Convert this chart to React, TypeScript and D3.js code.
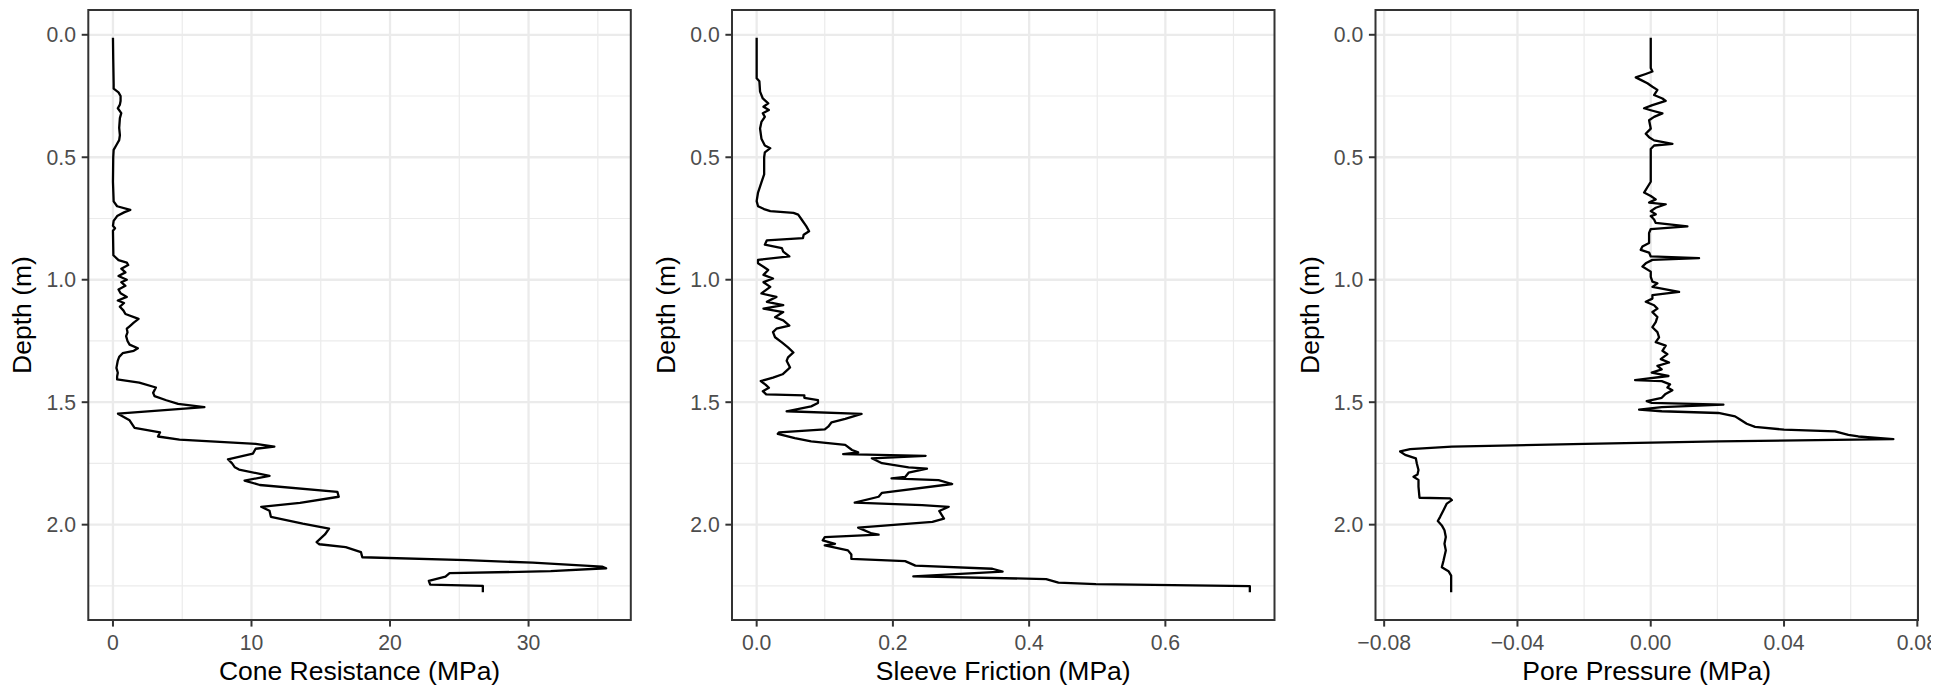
import React from "react";
import * as d3 from "d3";

// [depth (m), value (MPa)]
const coneData: [number, number][] = [
  [0.012, 0.0], [0.1, 0.02], [0.2, 0.05], [0.22, 0.05], [0.235, 0.4], [0.25, 0.55], [0.27, 0.55], [0.285, 0.5],
  [0.3, 0.35], [0.32, 0.6], [0.34, 0.5], [0.38, 0.45], [0.41, 0.5], [0.43, 0.45], [0.45, 0.25], [0.47, 0.05],
  [0.5, 0.02], [0.6, 0.0], [0.68, 0.05], [0.7, 0.3], [0.715, 1.25], [0.725, 0.8], [0.74, 0.3], [0.76, 0.05],
  [0.78, 0.0], [0.79, 0.15], [0.8, 0.0], [0.9, 0.03], [0.92, 0.4], [0.93, 1.0], [0.94, 1.1], [0.955, 0.6],
  [0.97, 0.9], [0.985, 0.4], [1.0, 1.0], [1.01, 0.6], [1.025, 0.9], [1.04, 0.4], [1.055, 0.55], [1.07, 1.0],
  [1.085, 0.35], [1.095, 0.8], [1.11, 0.5], [1.125, 0.75], [1.14, 0.9], [1.16, 1.85], [1.175, 1.5], [1.19, 1.2],
  [1.2, 1.0], [1.215, 1.05], [1.23, 0.95], [1.25, 1.05], [1.265, 1.2], [1.28, 1.8], [1.29, 1.5], [1.3, 0.7],
  [1.315, 0.45], [1.33, 0.35], [1.345, 0.3], [1.36, 0.25], [1.38, 0.35], [1.395, 0.3], [1.407, 0.3], [1.42, 1.9],
  [1.44, 3.1], [1.462, 2.9], [1.475, 3.0], [1.492, 3.85], [1.507, 4.7], [1.52, 6.6], [1.547, 0.36], [1.574, 1.2],
  [1.605, 1.56], [1.623, 3.4], [1.64, 3.25], [1.653, 4.8], [1.67, 10.3], [1.681, 11.65], [1.69, 10.3], [1.71, 10.1],
  [1.733, 8.3], [1.75, 8.6], [1.766, 8.8], [1.775, 9.1], [1.801, 11.3], [1.82, 9.5], [1.838, 10.6], [1.866, 16.2],
  [1.886, 16.3], [1.911, 13.5], [1.927, 10.7], [1.943, 11.3], [1.968, 11.4], [1.996, 13.7], [2.016, 15.6], [2.04, 15.3],
  [2.071, 14.7], [2.08, 14.9], [2.092, 16.8], [2.112, 17.9], [2.133, 18.0], [2.145, 25.5], [2.155, 30.3], [2.171, 35.3],
  [2.178, 35.6], [2.19, 31.6], [2.198, 24.3], [2.212, 24.0], [2.229, 22.8], [2.245, 22.9], [2.25, 26.7], [2.276, 26.7],
];

const sleeveData: [number, number][] = [
  [0.012, 0.0], [0.177, 0.0], [0.19, 0.004], [0.232, 0.005], [0.26, 0.009], [0.28, 0.017], [0.294, 0.01], [0.307, 0.018],
  [0.32, 0.009], [0.335, 0.012], [0.356, 0.007], [0.383, 0.005], [0.424, 0.007], [0.452, 0.012], [0.463, 0.02], [0.48, 0.012],
  [0.5, 0.011], [0.57, 0.011], [0.603, 0.007], [0.644, 0.002], [0.679, 0.0], [0.7, 0.002], [0.713, 0.012], [0.72, 0.02],
  [0.727, 0.054], [0.734, 0.061], [0.754, 0.066], [0.782, 0.073], [0.802, 0.077], [0.816, 0.069], [0.83, 0.068], [0.839, 0.015],
  [0.857, 0.012], [0.871, 0.037], [0.885, 0.039], [0.905, 0.048], [0.919, 0.002], [0.933, 0.002], [0.947, 0.01], [0.96, 0.017],
  [0.98, 0.01], [0.995, 0.024], [1.01, 0.01], [1.029, 0.02], [1.056, 0.007], [1.07, 0.029], [1.09, 0.015], [1.104, 0.039],
  [1.118, 0.01], [1.132, 0.039], [1.153, 0.027], [1.166, 0.039], [1.187, 0.048], [1.2, 0.029], [1.214, 0.024], [1.235, 0.027],
  [1.256, 0.037], [1.276, 0.046], [1.297, 0.054], [1.317, 0.046], [1.331, 0.044], [1.358, 0.049], [1.366, 0.046], [1.386, 0.038],
  [1.4, 0.024], [1.414, 0.006], [1.428, 0.013], [1.441, 0.018], [1.455, 0.009], [1.468, 0.014], [1.472, 0.07], [1.482, 0.07],
  [1.492, 0.09], [1.503, 0.09], [1.517, 0.08], [1.537, 0.044], [1.548, 0.154], [1.568, 0.13], [1.582, 0.11], [1.6, 0.105],
  [1.611, 0.1], [1.623, 0.033], [1.629, 0.031], [1.647, 0.056], [1.66, 0.08], [1.674, 0.13], [1.695, 0.14], [1.705, 0.149],
  [1.712, 0.127], [1.719, 0.248], [1.729, 0.169], [1.749, 0.184], [1.766, 0.223], [1.771, 0.25], [1.788, 0.223], [1.805, 0.218],
  [1.811, 0.198], [1.818, 0.267], [1.834, 0.287], [1.87, 0.184], [1.886, 0.179], [1.91, 0.144], [1.92, 0.243], [1.927, 0.282],
  [1.944, 0.268], [1.975, 0.275], [1.989, 0.258], [2.012, 0.149], [2.036, 0.169], [2.041, 0.179], [2.051, 0.1], [2.064, 0.097],
  [2.078, 0.115], [2.085, 0.1], [2.105, 0.134], [2.122, 0.139], [2.14, 0.139], [2.149, 0.218], [2.167, 0.233], [2.18, 0.346],
  [2.192, 0.361], [2.211, 0.23], [2.222, 0.425], [2.237, 0.443], [2.243, 0.498], [2.251, 0.724], [2.276, 0.724],
];

const poreData: [number, number][] = [
  [0.012, 0], [0.136, 0], [0.15, 0.0005], [0.16, -0.0015], [0.174, -0.0045], [0.184, -0.003], [0.198, -0.001], [0.212, 0.0005],
  [0.225, 0.002], [0.246, 0.001], [0.26, 0.0035], [0.27, 0.0045], [0.287, 0.0005], [0.3, -0.002], [0.308, 0], [0.321, 0.0035],
  [0.335, 0.001], [0.349, -0.0005], [0.383, 0], [0.404, -0.0015], [0.418, -0.0005], [0.431, 0.001], [0.445, 0.0065], [0.452, 0.001],
  [0.466, 0], [0.6, 0.0], [0.644, -0.002], [0.658, 0], [0.672, 0.0015], [0.685, -0.0005], [0.692, 0.0045], [0.706, 0.0015],
  [0.72, 0], [0.733, 0.0015], [0.74, 0], [0.754, 0.001], [0.768, 0.0015], [0.782, 0.011], [0.793, 0], [0.809, -0.0005],
  [0.85, -0.0005], [0.864, -0.0025], [0.878, -0.003], [0.889, -0.0005], [0.905, 0], [0.912, 0.0145], [0.919, 0.0005], [0.933, -0.0015],
  [0.946, -0.0025], [0.967, 0], [0.988, 0], [1.008, 0.0005], [1.015, 0.002], [1.029, 0.0005], [1.05, 0.0085], [1.063, 0.0005],
  [1.077, 0.0005], [1.09, -0.0015], [1.104, 0.001], [1.118, 0.002], [1.132, 0.0005], [1.152, 0.002], [1.173, 0.0015], [1.194, 0.0005],
  [1.214, 0.002], [1.235, 0.0025], [1.255, 0.0015], [1.269, 0.0045], [1.29, 0.0035], [1.304, 0.005], [1.324, 0.003], [1.338, 0.0055],
  [1.352, 0.002], [1.366, 0.0033], [1.379, 0.0003], [1.393, 0.0053], [1.41, -0.0047], [1.414, 0.0033], [1.427, 0.0058], [1.44, 0.005],
  [1.451, 0.0065], [1.468, 0.0043], [1.482, 0.0033], [1.496, -0.0012], [1.503, 0.0003], [1.51, 0.0218], [1.52, 0.0033], [1.53, -0.0035],
  [1.537, 0.0033], [1.544, 0.0203], [1.558, 0.0253], [1.571, 0.0268], [1.588, 0.0288], [1.601, 0.0313], [1.612, 0.04], [1.619, 0.0553],
  [1.633, 0.0593], [1.64, 0.0623], [1.651, 0.0728], [1.66, 0.0203], [1.67, -0.0197], [1.681, -0.0597], [1.692, -0.0722], [1.701, -0.0752],
  [1.715, -0.0737], [1.729, -0.0705], [1.75, -0.0702], [1.777, -0.0697], [1.795, -0.07], [1.804, -0.0712], [1.817, -0.0697], [1.845, -0.0697],
  [1.89, -0.0694], [1.893, -0.0602], [1.9, -0.0597], [1.914, -0.0612], [1.941, -0.0622], [1.968, -0.0632], [1.985, -0.0639], [2.003, -0.0627],
  [2.023, -0.0619], [2.05, -0.0615], [2.078, -0.0619], [2.105, -0.0615], [2.147, -0.0622], [2.174, -0.0627], [2.19, -0.0607], [2.208, -0.0599],
  [2.276, -0.0599],
];

const depthTicks = [0, 0.5, 1.0, 1.5, 2.0];
const depthMinor = [0.25, 0.75, 1.25, 1.75, 2.25];
const coneTicks = [0, 10, 20, 30];
const coneMinor = [5, 15, 25, 35];
const sleeveTicks = [0, 0.2, 0.4, 0.6];
const sleeveMinor = [0.1, 0.3, 0.5, 0.7];
const poreTicks = [-0.08, -0.04, 0, 0.04, 0.08];
const poreMinor = [-0.06, -0.02, 0.02, 0.06];
const xTitles = ["Cone Resistance (MPa)", "Sleeve Friction (MPa)", "Pore Pressure (MPa)"];
const yTitle = "Depth (m)";

const PANEL_LEFTS = [88.3, 732, 1375.5];
const PANEL_W = 542.5;
const TOP = 10;
const BOTTOM = 620;
const FONT = "'Liberation Sans', Arial, Helvetica, sans-serif";
const TICK_FS = 21.2;
const TITLE_FS = 26.5;

function expand(ext: [number, number]): [number, number] {
  const p = (ext[1] - ext[0]) * 0.05;
  return [ext[0] - p, ext[1] + p];
}

function Panel({ data, left, y, ticks, minor, fmt, title }: any) {
  const ext = d3.extent(data, (d: [number, number]) => d[1]) as [number, number];
  const x = d3.scaleLinear().domain(expand(ext)).range([left, left + PANEL_W]);
  const line = d3
    .line<[number, number]>()
    .x((d) => x(d[1]))
    .y((d) => y(d[0]));
  const right = left + PANEL_W;
  const inX = (v: number) => x(v) >= left - 0.5 && x(v) <= right + 0.5;
  return (
    <g>
      <rect x={left} y={TOP} width={PANEL_W} height={BOTTOM - TOP} fill="#fff" />
      {depthMinor.map((d) => (
        <line key={"ym" + d} x1={left} x2={right} y1={y(d)} y2={y(d)} stroke="#EBEBEB" strokeWidth={1.2} />
      ))}
      {minor.filter(inX).map((v: number) => (
        <line key={"xm" + v} x1={x(v)} x2={x(v)} y1={TOP} y2={BOTTOM} stroke="#EBEBEB" strokeWidth={1.2} />
      ))}
      {depthTicks.map((d) => (
        <line key={"yM" + d} x1={left} x2={right} y1={y(d)} y2={y(d)} stroke="#EBEBEB" strokeWidth={2.3} />
      ))}
      {ticks.filter(inX).map((v: number) => (
        <line key={"xM" + v} x1={x(v)} x2={x(v)} y1={TOP} y2={BOTTOM} stroke="#EBEBEB" strokeWidth={2.3} />
      ))}
      <path d={line(data) || ""} fill="none" stroke="#000" strokeWidth={2.3} strokeLinejoin="round" strokeLinecap="butt" />
      <rect x={left} y={TOP} width={PANEL_W} height={BOTTOM - TOP} fill="none" stroke="#333333" strokeWidth={2} />
      {depthTicks.map((d) => (
        <g key={"yt" + d}>
          <line x1={left - 6.6} x2={left} y1={y(d)} y2={y(d)} stroke="#333333" strokeWidth={2} />
          <text x={left - 12.3} y={y(d)} dy="0.36em" textAnchor="end" fontSize={TICK_FS} fill="#4D4D4D">
            {d3.format(".1f")(d)}
          </text>
        </g>
      ))}
      {ticks.map((v: number) => (
        <g key={"xt" + v}>
          <line x1={x(v)} x2={x(v)} y1={BOTTOM} y2={BOTTOM + 6.6} stroke="#333333" strokeWidth={2} />
          <text x={x(v)} y={649.5} textAnchor="middle" fontSize={TICK_FS} fill="#4D4D4D">
            {fmt(v)}
          </text>
        </g>
      ))}
      <text x={(left + right) / 2} y={680} textAnchor="middle" fontSize={TITLE_FS} fill="#000">
        {title}
      </text>
      <text
        transform={`translate(${left - 57},${(TOP + BOTTOM) / 2}) rotate(-90)`}
        textAnchor="middle"
        fontSize={TITLE_FS}
        fill="#000"
      >
        {yTitle}
      </text>
    </g>
  );
}

export default function App() {
  const allDepths = [...coneData, ...sleeveData, ...poreData].map((d) => d[0]);
  const y = d3
    .scaleLinear()
    .domain(expand(d3.extent(allDepths) as [number, number]))
    .range([TOP, BOTTOM]);
  const panels = [
    { data: coneData, ticks: coneTicks, minor: coneMinor, fmt: d3.format("d") },
    { data: sleeveData, ticks: sleeveTicks, minor: sleeveMinor, fmt: d3.format(".1f") },
    { data: poreData, ticks: poreTicks, minor: poreMinor, fmt: d3.format(".2f") },
  ];
  return (
    <svg
      width={1931}
      height={685}
      style={{ position: "absolute", left: 0, top: 0, display: "block" }}
      fontFamily={FONT}
    >
      <rect x={0} y={0} width={1931} height={685} fill="#fff" />
      {panels.map((p, i) => (
        <Panel key={i} left={PANEL_LEFTS[i]} y={y} title={xTitles[i]} {...p} />
      ))}
    </svg>
  );
}
